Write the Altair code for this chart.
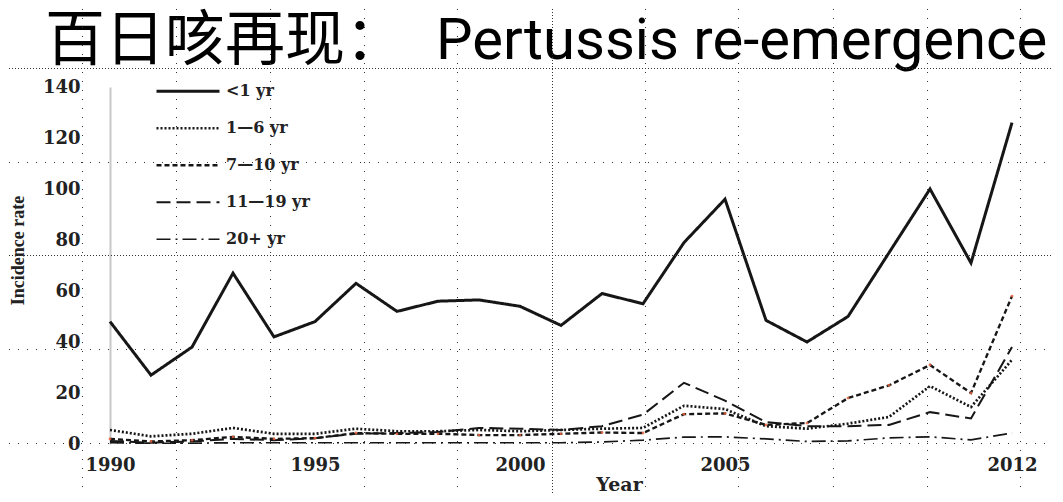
import altair as alt
import pandas as pd

# ---------------- data ----------------
years = list(range(1990, 2013))
series_names = ["<1 yr", "1—6 yr", "7—10 yr", "11—19 yr", "20+ yr"]

lt1 = [48, 27, 38, 67, 42, 48, 63, 52, 56, 56.5, 54, 46.5, 59, 55, 79, 96, 48.5, 40, 50, 75, 100, 71, 126]
a1_6 = [5.5, 3, 4, 6.3, 4, 4, 6, 5, 5, 5.5, 5, 5.5, 6, 6.3, 15, 13.7, 7, 6, 8, 10.6, 22.7, 14.5, 33]
a7_10 = [2, 1, 1.5, 2.8, 2, 2.3, 4.3, 4, 4, 3.5, 3.5, 4, 4.5, 4.3, 11.7, 12, 7.5, 8.2, 18, 23, 31, 20, 58]
a11_19 = [1.2, 0.5, 1, 2, 1.5, 2.3, 4, 4.3, 4.7, 6.3, 6, 5.5, 7, 11.5, 24, 17, 8.6, 7, 7, 7.5, 12.5, 10, 38]
a20 = [0.5, 0.3, 0.3, 0.5, 0.5, 0.5, 0.5, 0.5, 0.5, 0.5, 0.5, 0.5, 0.8, 1.5, 2.7, 2.8, 2, 1, 1.2, 2.4, 2.8, 1.6, 4.3]

x_ticks = [1990, 1995, 2000, 2005, 2012]
y_ticks = [0, 20, 40, 60, 80, 100, 120, 140]

title_cn = "百日咳再现："
title_en = "Pertussis re-emergence"

rows = []
for name, vals in zip(series_names, [lt1, a1_6, a7_10, a11_19, a20]):
    for yr, v in zip(years, vals):
        rows.append({"year": yr, "rate": v, "series": name})
df = pd.DataFrame(rows)

# ---------------- chart ----------------
W, H = 902, 357
OX, OY = 110, 87  # page position of plot origin (for decorative layers)

x_scale = alt.Scale(domain=[1990, 2012], nice=False, zero=False)
y_scale = alt.Scale(domain=[0, 140], nice=False)

dash_range = [[1, 0], [2, 2], [5, 3], [14, 6], [14, 5, 2, 5]]
width_range = [3, 1.7, 2.2, 2.2, 2]

lines = alt.Chart(df).mark_line(color="#161616", strokeJoin="miter").encode(
    x=alt.X("year:Q", scale=x_scale,
            axis=alt.Axis(values=x_ticks, format="d", title="Year", grid=False,
                          ticks=False, domain=False, labelFont="DejaVu Serif",
                          labelFontWeight="bold", labelFontSize=18, labelColor="#222",
                          labelPadding=12, labelFlush=False,
                          titleFont="DejaVu Serif", titleFontWeight="bold",
                          titleFontSize=19, titleColor="#222",
                          titleX=509, titleY=40, titleBaseline="middle")),
    y=alt.Y("rate:Q", scale=y_scale,
            axis=alt.Axis(values=y_ticks, title="Incidence rate", grid=False,
                          ticks=False, domain=True, domainColor="#c8c8c8",
                          domainWidth=2, labelFont="DejaVu Serif",
                          labelFontWeight="bold", labelFontSize=18, labelColor="#222",
                          labelPadding=30,
                          titleFont="Liberation Serif", titleFontWeight="bold",
                          titleFontSize=18, titleColor="#222", titleAngle=270,
                          titleX=-92, titleY=163, titleAlign="center",
                          titleBaseline="middle")),
    strokeDash=alt.StrokeDash("series:N",
                              scale=alt.Scale(domain=series_names, range=dash_range),
                              legend=alt.Legend(title=None, orient="none",
                                                legendX=45, legendY=-14,
                                                symbolType="stroke", symbolSize=3969,
                                                symbolStrokeWidth=2,
                                                symbolStrokeColor="#161616",
                                                labelFont="DejaVu Serif",
                                                labelFontWeight="bold",
                                                labelFontSize=16, labelColor="#222",
                                                labelOffset=5, rowPadding=0,
                                                clipHeight=36.5,
                                                padding=0)),
    strokeWidth=alt.StrokeWidth("series:N",
                                scale=alt.Scale(domain=series_names, range=width_range),
                                legend=None),
    order="year:Q",
)

red_pts = alt.Chart(df[df["series"] == "7—10 yr"]).mark_circle(
    color="#e8603c", size=8, opacity=0.85
).encode(x=alt.X("year:Q", scale=x_scale), y=alt.Y("rate:Q", scale=y_scale))

# title (slide heading)
t_cn = alt.Chart(pd.DataFrame({"t": [title_cn]})).mark_text(
    font="Noto Sans CJK SC", fontSize=60, align="left", baseline="alphabetic",
    color="#000"
).encode(text="t:N", x=alt.value(45 - OX), y=alt.value(60 - OY))

t_en = alt.Chart(pd.DataFrame({"t": [title_en]})).mark_text(
    font="Roboto", fontSize=58, align="left", baseline="alphabetic", color="#000"
).encode(text="t:N", x=alt.value(436 - OX), y=alt.value(59 - OY))

# slide guide lines (dotted)
one = pd.DataFrame({"a": [0]})
guides = []
for py, dense in [(68, True), (162, False), (255, True), (349, False), (443, False)]:
    guides.append(alt.Chart(one).mark_rule(
        color="#333", strokeWidth=1, strokeDash=[1, 2] if dense else [1, 8]
    ).encode(x=alt.value(-OX), x2=alt.value(1063 - OX),
             y=alt.value(py - OY + 0.5)))
for px in [82, 176, 270, 364, 457, 552, 645, 738, 833, 927, 1020]:
    dense = px == 552
    guides.append(alt.Chart(one).mark_rule(
        color="#333", strokeWidth=1, strokeDash=[1, 2] if dense else [1, 8]
    ).encode(x=alt.value(px - OX + 0.5), y=alt.value(-OY), y2=alt.value(502 - OY)))

chart = alt.layer(lines, red_pts, t_cn, t_en, *guides).properties(
    width=W, height=H,
    autosize=alt.AutoSizeParams(type="none"),
    padding={"left": 102, "top": 79, "right": 41, "bottom": 50},
    background="white",
).configure_view(stroke=None)

chart.save("out.html", embed_options={"renderer": "svg", "actions": False})
